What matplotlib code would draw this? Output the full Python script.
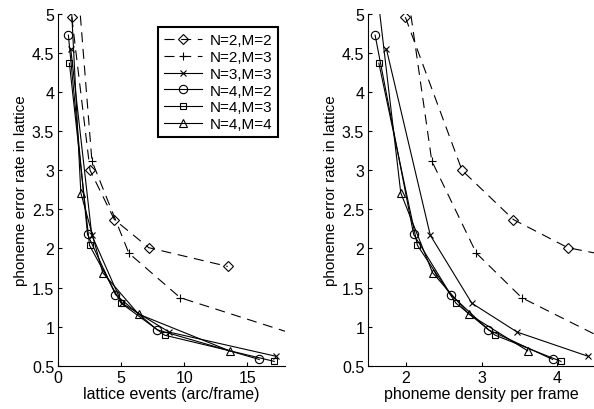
import matplotlib
matplotlib.use("Agg")
import matplotlib.pyplot as plt
from matplotlib.ticker import FormatStrFormatter

plt.rcParams['font.family'] = ['Liberation Sans', 'DejaVu Sans']
plt.rcParams['font.size'] = 11

labels = ['N=2,M=2', 'N=2,M=3', 'N=3,M=3', 'N=4,M=2', 'N=4,M=3', 'N=4,M=4']
markers = ['D', '+', 'x', 'o', 's', '^']
msizes = [4.8, 6.0, 4.5, 6.0, 4.8, 6.0]
dashed = [True, True, False, False, False, False]

# phoneme error rate (shared by both panels)
err_22 = [4.96, 3.00, 2.37, 2.01, 1.77]
err_23 = [6.5, 3.12, 1.94, 1.37, 0.75]
err_33 = [4.55, 2.17, 1.30, 0.93, 0.62]
err_42 = [4.73, 2.18, 1.41, 0.96, 0.58]
err_43 = [4.37, 2.04, 1.30, 0.89, 0.555]
err_44 = [5.6, 2.71, 1.69, 1.16, 0.69]

# lattice events (arc/frame)
arcs_22 = [1.07, 2.52, 4.45, 7.18, 13.45]
arcs_23 = [1.0, 2.67, 5.6, 9.68, 21.7]
arcs_33 = [0.99, 2.66, 5.05, 8.8, 17.3]
arcs_42 = [0.8, 2.32, 4.54, 7.85, 15.95]
arcs_43 = [0.88, 2.48, 4.99, 8.45, 17.15]
arcs_44 = [0.88, 1.79, 3.53, 6.37, 13.6]

# phoneme density per frame
dens_22 = [1.99, 2.74, 3.42, 4.14, 5.4]
dens_23 = [1.84, 2.34, 2.93, 3.53, 4.81]
dens_33 = [1.74, 2.32, 2.87, 3.47, 4.41]
dens_42 = [1.59, 2.10, 2.59, 3.09, 3.94]
dens_43 = [1.64, 2.15, 2.66, 3.18, 4.05]
dens_44 = [1.58, 1.93, 2.35, 2.83, 3.61]

errs = [err_22, err_23, err_33, err_42, err_43, err_44]
arcs = [arcs_22, arcs_23, arcs_33, arcs_42, arcs_43, arcs_44]
dens = [dens_22, dens_23, dens_33, dens_42, dens_43, dens_44]

fig = plt.figure(figsize=(5.94, 4.10), dpi=100)
ax1 = fig.add_axes([58.3 / 594, 43.3 / 410, 226.7 / 594, 351.7 / 410])
ax2 = fig.add_axes([368.3 / 594, 43.3 / 410, 226.7 / 594, 351.7 / 410])


def draw(ax, xs_list):
    for xs, ys, lab, mk, ms, d in zip(xs_list, errs, labels, markers, msizes, dashed):
        ls = (0, (9, 6)) if d else '-'
        ax.plot(xs, ys, color='black', lw=0.8, linestyle=ls, marker=mk,
                markersize=ms, mfc='none', mec='black', mew=0.8, label=lab)
    ax.set_ylim(0.5, 5)
    ax.set_yticks([0.5, 1, 1.5, 2, 2.5, 3, 3.5, 4, 4.5, 5])
    ax.yaxis.set_major_formatter(FormatStrFormatter('%g'))
    ax.set_ylabel('phoneme error rate in lattice', labelpad=3)
    ax.spines['top'].set_visible(False)
    ax.spines['right'].set_visible(False)
    for s in ['left', 'bottom']:
        ax.spines[s].set_linewidth(0.8)
    ax.tick_params(direction='in', length=3, width=0.8, labelsize=11.5, pad=3)


draw(ax1, arcs)
ax1.set_xlim(0, 18)
ax1.set_xticks([0, 5, 10, 15])
ax1.set_xlabel('lattice events (arc/frame)', labelpad=1, fontsize=11.5)
leg = ax1.legend(loc='upper right', bbox_to_anchor=(1.005, 0.984), fontsize=11,
                 handlelength=2.5, labelspacing=0.18, borderpad=0.4,
                 handletextpad=0.5, fancybox=False, framealpha=1)
leg.get_frame().set_edgecolor('black')
leg.get_frame().set_linewidth(1.5)

draw(ax2, dens)
ax2.set_xlim(1.5, 4.5)
ax2.set_xticks([2, 3, 4])
ax2.set_xlabel('phoneme density per frame', labelpad=1, fontsize=11.5)

fig.savefig('out.png', dpi=100)
